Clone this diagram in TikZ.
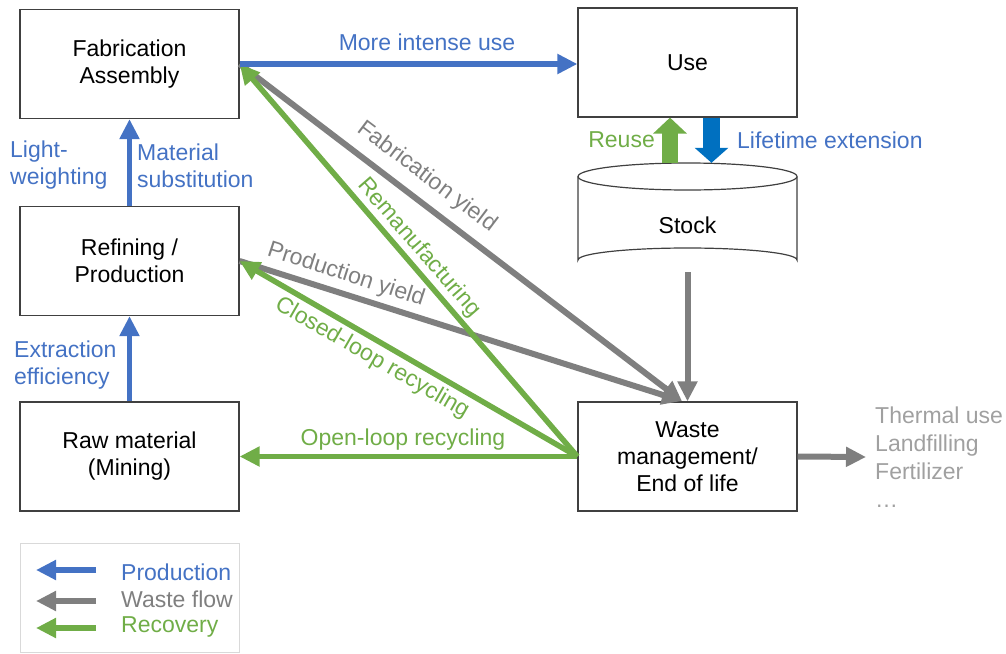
\documentclass[tikz,border=0pt]{standalone}
\usepackage{fontspec}
\setmainfont{Liberation Sans}
\usetikzlibrary{arrows.meta,calc}
\definecolor{prodblue}{HTML}{4472C4}
\definecolor{lifeblue}{HTML}{0070C0}
\definecolor{wastegray}{HTML}{7F7F7F}
\definecolor{recgreen}{HTML}{70AD47}
\definecolor{endgray}{HTML}{A0A0A0}
\definecolor{framegray}{HTML}{D9D9D9}
\begin{document}
\begin{tikzpicture}[x=1pt,y=-1pt,
  every node/.style={font=\fontsize{23}{27}\selectfont},
  stage/.style={draw=black!75, line width=1.2pt, minimum width=219pt, minimum height=109pt, align=center, inner sep=0pt},
  flow/.style={line width=5.5pt, -{Triangle[length=20pt,width=19pt]}},
  prod/.style={flow, draw=prodblue},
  waste/.style={flow, draw=wastegray, line width=6pt},
  rec/.style={flow, draw=recgreen},
  prodlbl/.style={text=prodblue, align=left, inner sep=0pt},
  wastelbl/.style={text=wastegray, inner sep=0pt},
  reclbl/.style={text=recgreen, inner sep=0pt}]
\useasboundingbox (0,0) rectangle (1006,653);

% process stages
\node[stage] (fab) at (129.5,64) {Fabrication\\Assembly};
\node[stage] (ref) at (129.5,261) {Refining /\\Production};
\node[stage] (raw) at (129.5,456.5) {Raw material\\(Mining)};
\node[stage] (use) at (687.5,62.5) {Use};
\node[stage] (wm) at (687.5,456.5) {Waste\\management/\\End of life};

% stock drawn as a cylinder
\node[minimum width=219pt, minimum height=109pt, inner sep=0pt] (stock) at (687.5,217.5) {};
\draw[black!75, line width=1.2pt, fill=white]
  (578,176.5) -- (578,260) arc[start angle=180, end angle=360, x radius=109.5, y radius=12]
  -- (797,176.5);
\draw[black!75, line width=1.2pt, fill=white] (687.5,176.5) ellipse[x radius=109.5, y radius=13.5];
\node at (687.5,225) {Stock};

\coordinate (wmIn) at (682,401);
\coordinate (outEnd) at (866,457);

% waste flows
\draw[waste] (fab.east) -- (wmIn);
\draw[waste] (ref.east) -- (wmIn);
\draw[waste] (stock.south) -- (wm.north);
\draw[waste] (wm.east) -- (outEnd);

% recovery flows
\draw[rec] (wm.west) -- (raw.east);
\draw[rec] (wm.west) -- (ref.east);
\draw[rec] (wm.west) -- (fab.east);

% production flows
\draw[prod] (fab.east) -- (fab.east -| use.west);
\draw[prod] (ref.north) -- (fab.south);
\draw[prod] (raw.north) -- (ref.south);

% reuse / lifetime extension
\draw[recgreen, line width=16pt, -{Triangle[length=16pt,width=33pt]}]
  ([xshift=-17.5pt]stock.north) -- ([xshift=-17.5pt]use.south);
\draw[lifeblue, line width=17pt, -{Triangle[length=15pt,width=33pt]}]
  ([xshift=24pt]use.south) -- ([xshift=24pt]stock.north);

% labels
\node[prodlbl] at (427,42) {More intense use};
\node[prodlbl, anchor=west] at (10,165.5) {Light-\\weighting};
\node[prodlbl, anchor=west] at (137,165.5) {Material\\substitution};
\node[prodlbl, anchor=west] at (14,365.5) {Extraction\\efficiency};
\node[reclbl, anchor=east] at (655,140) {Reuse};
\node[prodlbl, anchor=west] at (737,140) {Lifetime extension};
\node[wastelbl, rotate=-37] at (427,177) {Fabrication yield};
\node[reclbl, rotate=-49] at (419,248) {Remanufacturing};
\node[wastelbl, rotate=-18] at (346,275) {Production yield};
\node[reclbl, rotate=-30] at (372,358) {Closed-loop recycling};
\node[reclbl] at (403,440) {Open-loop recycling};
\node[text=endgray, anchor=west, align=left, inner sep=0pt, font=\fontsize{23}{28}\selectfont] (ends) at (875,457) {Thermal use\\Landfilling\\Fertilizer\\\dots};

% legend
\node[draw=framegray, line width=1pt, minimum width=219pt, minimum height=109pt, inner sep=0pt] (legend) at (129.5,597.5) {};
\coordinate (l1a) at (96,570); \coordinate (l1b) at (36,570);
\coordinate (l2a) at (96,601); \coordinate (l2b) at (36,601);
\coordinate (l3a) at (96,628); \coordinate (l3b) at (36,628);
\draw[prod] (l1a) -- (l1b);
\draw[waste, line width=5.5pt] (l2a) -- (l2b);
\draw[rec] (l3a) -- (l3b);
\node[prodlbl, anchor=west] at (121,572) {Production};
\node[wastelbl, anchor=west] at (121,599) {Waste flow};
\node[reclbl, anchor=west] at (121,627) {Recovery};
\end{tikzpicture}
\end{document}
